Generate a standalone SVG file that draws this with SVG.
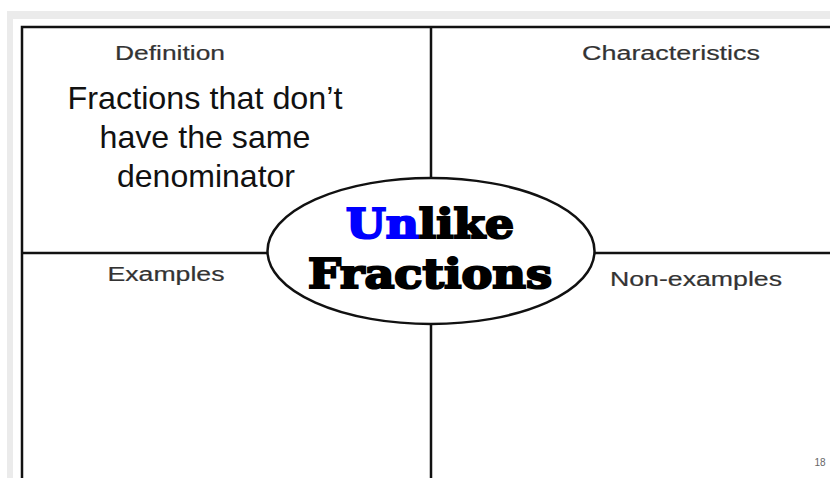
<svg xmlns="http://www.w3.org/2000/svg" width="830" height="478" viewBox="0 0 830 478">
<style>
.frame{stroke:#111;stroke-width:2.5;fill:none}
.lbl{font-family:"Liberation Sans",Arial,sans-serif;font-size:20px;fill:#333;stroke:#333;stroke-width:0.2;text-anchor:middle}
.def{font-family:"Liberation Sans",Arial,sans-serif;font-size:32px;fill:#111;text-anchor:middle}
.big{font-family:"DejaVu Serif",serif;font-weight:bold;font-size:41px;text-anchor:middle;fill:#000;stroke:#000;stroke-width:2.2;paint-order:stroke}
</style>
<rect x="0" y="0" width="830" height="478" fill="#fff"/>
<rect x="7" y="11" width="830" height="478" fill="#ebebeb"/>
<rect x="13" y="19" width="830" height="478" fill="#fff"/>
<g id="connectors">
<rect class="frame" x="22" y="27" width="830" height="470"/>
<line class="frame" x1="431" y1="27" x2="431" y2="478"/>
<line class="frame" x1="22" y1="253" x2="268" y2="253"/>
<line class="frame" x1="594" y1="253" x2="830" y2="253"/>
</g>
<g id="definition">
<text class="lbl" x="170" y="60" textLength="110" lengthAdjust="spacingAndGlyphs">Definition</text>
<text class="def" x="205" y="109" textLength="275" lengthAdjust="spacingAndGlyphs">Fractions that don’t</text>
<text class="def" x="205" y="148" textLength="211" lengthAdjust="spacingAndGlyphs">have the same</text>
<text class="def" x="206" y="187" textLength="178" lengthAdjust="spacingAndGlyphs">denominator</text>
</g>
<g id="characteristics"><text class="lbl" x="671" y="60" textLength="178" lengthAdjust="spacingAndGlyphs">Characteristics</text></g>
<g id="examples"><text class="lbl" x="166" y="281" textLength="117" lengthAdjust="spacingAndGlyphs">Examples</text></g>
<g id="nonexamples"><text class="lbl" x="696" y="286" textLength="172" lengthAdjust="spacingAndGlyphs">Non-examples</text></g>
<g id="center">
<ellipse cx="431" cy="251" rx="163.5" ry="73" fill="#fff" stroke="#111" stroke-width="2.5"/>
<text class="big" x="430" y="238" textLength="168" lengthAdjust="spacingAndGlyphs"><tspan fill="#0000ff" stroke="#0000ff">Un</tspan>like</text>
<text class="big" x="430" y="288" textLength="244" lengthAdjust="spacingAndGlyphs">Fractions</text>
</g>
<g id="page"><text x="820" y="466" font-family="Liberation Sans,Arial,sans-serif" font-size="10" fill="#666" text-anchor="middle">18</text></g>
</svg>
